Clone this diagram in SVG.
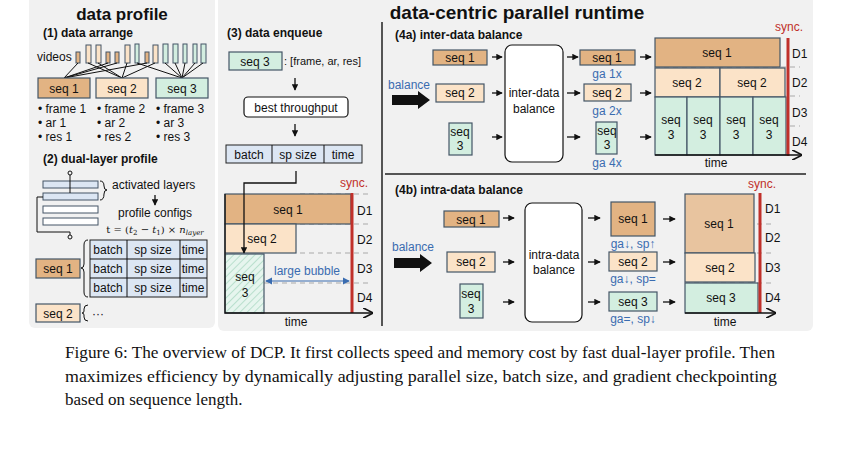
<svg xmlns="http://www.w3.org/2000/svg" width="843" height="452" viewBox="0 0 843 452">
<defs>
<style>
text{font-family:"Liberation Sans",Arial,sans-serif;font-size:12px;fill:#111}
.b{font-weight:bold}
.c{text-anchor:middle}
.sm{font-size:11px}
.bl{fill:#3a6cb0}
.red{fill:#c0302a}
.s1{fill:#e2b383;stroke:#445566;stroke-width:1.2}
.s2{fill:#fbe3c8;stroke:#445566;stroke-width:1.2}
.s3{fill:#d3eee0;stroke:#445566;stroke-width:1.2}
.tb{fill:#dce6f3;stroke:#222;stroke-width:1}
.ln{stroke:#111;stroke-width:1;fill:none}
.ds{stroke:#aaa;stroke-width:1.2;stroke-dasharray:5,4;fill:none}
.sy{stroke:#c0302a;stroke-width:3}
.ar{stroke:#111;stroke-width:1.3;fill:none;marker-end:url(#m)}
.cap{font-family:"Liberation Serif","Times New Roman",serif;font-size:17px}
</style>
<marker id="m" viewBox="0 0 8 8" refX="7" refY="4" markerWidth="5" markerHeight="5" orient="auto"><path d="M0,0L8,4L0,8z" fill="#111"/></marker>
<marker id="m2" viewBox="0 0 8 8" refX="7" refY="4" markerWidth="8" markerHeight="8" orient="auto"><path d="M0,0L8,4L0,8" fill="none" stroke="#111" stroke-width="1.3"/></marker>
<marker id="mb" viewBox="0 0 8 8" refX="7" refY="4" markerWidth="6" markerHeight="6" orient="auto-start-reverse"><path d="M0,0L8,4L0,8z" fill="#3a6cb0"/></marker>
<pattern id="h" width="5" height="5" patternUnits="userSpaceOnUse" patternTransform="rotate(45)"><rect width="5" height="5" fill="#e6f5ee"/><line x1="0" y1="0" x2="0" y2="5" stroke="#8cc9ad" stroke-width="1"/></pattern>
</defs>
<rect width="843" height="452" fill="#fff"/>
<rect x="29" y="-6" width="186" height="334" rx="6" fill="#f1f1f1"/>
<rect x="218" y="-6" width="595" height="337" rx="6" fill="#f1f1f1"/>

<g id="data-profile">
<text x="122" y="20" class="b c" style="font-size:17px">data profile</text>
<text x="43" y="37" class="b">(1) data arrange</text>
<text x="37" y="61">videos</text>
<g stroke="#445566" stroke-width="1">
<rect x="76" y="52" width="4" height="11" fill="#e2b383"/>
<rect x="86" y="45" width="5" height="18" fill="#fbe3c8"/>
<rect x="96" y="45" width="5" height="18" fill="#fbe3c8"/>
<rect x="106" y="52" width="4" height="11" fill="#e2b383"/>
<rect x="115" y="52" width="4" height="11" fill="#e2b383"/>
<rect x="125" y="45" width="5" height="18" fill="#fbe3c8"/>
<rect x="135" y="44" width="4" height="19" fill="#d3eee0"/>
<rect x="145" y="52" width="4" height="11" fill="#e2b383"/>
<rect x="153" y="45" width="5" height="18" fill="#fbe3c8"/>
<rect x="163" y="44" width="5" height="19" fill="#d3eee0"/>
<rect x="173" y="44" width="5" height="19" fill="#d3eee0"/>
<rect x="183" y="44" width="4" height="19" fill="#d3eee0"/>
<rect x="193" y="44" width="4" height="19" fill="#d3eee0"/>
<rect x="201" y="44" width="5" height="19" fill="#d3eee0"/>
</g>
<g class="ln">
<path d="M78,63L64,78M108,63L64,78M117,63L64,78M147,63L64,78M88,63L122,78M98,63L122,78M127,63L122,78M155,63L122,78M137,63L182,78M165,63L182,78M175,63L182,78M185,63L182,78M195,63L182,78M203,63L182,78"/>
</g>
<rect x="38" y="78" width="52" height="20" class="s1"/><text x="64" y="93" class="c">seq 1</text>
<rect x="96" y="78" width="52" height="20" class="s2"/><text x="122" y="93" class="c">seq 2</text>
<rect x="156" y="78" width="52" height="20" class="s3"/><text x="182" y="93" class="c">seq 3</text>
<g class="sm">
<text x="38" y="113">• frame 1</text><text x="38" y="127">• ar 1</text><text x="38" y="141">• res 1</text>
<text x="97" y="113">• frame 2</text><text x="97" y="127">• ar 2</text><text x="97" y="141">• res 2</text>
<text x="156" y="113">• frame 3</text><text x="156" y="127">• ar 3</text><text x="156" y="141">• res 3</text>
</g>
<text x="43" y="163" class="b">(2) dual-layer profile</text>
<g stroke="#445566" stroke-width="1">
<rect x="43" y="181" width="55" height="7" fill="#dce6f3"/>
<rect x="43" y="193" width="55" height="7" fill="#dce6f3"/>
<rect x="43" y="206" width="55" height="7" fill="#fff"/>
<rect x="43" y="218" width="55" height="7" fill="#fff"/>
</g>
<g class="ln">
<circle cx="70" cy="173" r="2"/><path d="M70,175V193"/>
<path d="M43,197H37V232H70V235"/><circle cx="70" cy="237" r="2"/>
<path d="M100,181Q104,181 104,186Q104,190 107,190Q104,190 104,194Q104,200 100,200"/>
</g>
<text x="112" y="189">activated layers</text>
<path d="M155,195V205" class="ar"/>
<text x="155" y="217" class="c">profile configs</text>
<text x="155" y="233" class="c" style="font-family:'DejaVu Serif',serif;font-size:10px">t = (<tspan font-style="italic">t</tspan><tspan font-size="7" dy="2">2</tspan><tspan dy="-2"> − </tspan><tspan font-style="italic">t</tspan><tspan font-size="7" dy="2">1</tspan><tspan dy="-2">) × </tspan><tspan font-style="italic">n</tspan><tspan font-size="7" font-style="italic" dy="2">layer</tspan></text>
<g class="sm">
<rect x="90" y="240" width="117" height="57" class="tb"/>
<path d="M90,259H207M90,278H207M127,240V297M180,240V297" class="ln"/>
<text x="108" y="254" class="c">batch</text><text x="153" y="254" class="c">sp size</text><text x="193" y="254" class="c">time</text>
<text x="108" y="273" class="c">batch</text><text x="153" y="273" class="c">sp size</text><text x="193" y="273" class="c">time</text>
<text x="108" y="292" class="c">batch</text><text x="153" y="292" class="c">sp size</text><text x="193" y="292" class="c">time</text>
</g>
<path d="M88,240Q84,240 84,245V264Q84,268 81,268Q84,268 84,272V292Q84,297 88,297" class="ln"/>
<rect x="36" y="259" width="44" height="19" class="s1"/><text x="58" y="273" class="c">seq 1</text>
<rect x="36" y="304" width="44" height="18" class="s2"/><text x="58" y="318" class="c">seq 2</text>
<path d="M88,305Q84,305 84,309V311Q84,313 82,313Q84,313 84,315V317Q84,321 88,321" class="ln"/>
<text x="92" y="318">···</text>
</g>

<g id="data-enqueue">
<text x="227" y="37" class="b">(3) data enqueue</text>
<rect x="229" y="52" width="53" height="18" class="s3"/><text x="255" y="66" class="c">seq 3</text>
<text x="284" y="65" class="sm">: [frame, ar, res]</text>
<rect x="244" y="97" width="104" height="20" rx="4" fill="#fff" stroke="#111" stroke-width="1.2"/>
<text x="296" y="112" class="c">best throughput</text>
<rect x="226" y="145" width="136" height="18" class="tb"/>
<path d="M272,145V163M324,145V163" class="ln"/>
<text x="249" y="159" class="c">batch</text><text x="298" y="159" class="c">sp size</text><text x="343" y="159" class="c">time</text>
<path d="M300,194H370M300,224H370M300,253H370M264,283H370" class="ds"/>
<rect x="225" y="194" width="126" height="30" class="s1"/><text x="288" y="214" class="c">seq 1</text>
<rect x="225" y="224" width="71" height="29" class="s2"/><text x="262" y="243" class="c">seq 2</text>
<rect x="225" y="254" width="39" height="59" fill="url(#h)" stroke="#445566" stroke-width="1.2"/>
<text x="245" y="281" class="c">seq</text><text x="245" y="297" class="c">3</text>
<path d="M266,281H349" stroke="#3a6cb0" stroke-width="1.2" marker-start="url(#mb)" marker-end="url(#mb)"/>
<text x="307" y="275" class="c bl">large bubble</text>
<path d="M352,193V313" class="sy"/>
<text x="340" y="187" class="red">sync.</text>
<text x="357" y="215">D1</text><text x="357" y="244">D2</text><text x="357" y="273">D3</text><text x="357" y="302">D4</text>
<path d="M225,194V313H372" stroke="#111" stroke-width="1.3" fill="none" marker-end="url(#m2)"/>
<text x="296" y="326" class="c">time</text>
</g>

<g id="dividers">
<path d="M382,22V326M385,174H806" stroke="#222" stroke-width="1.5"/>
</g>

<g id="inter-data">
<text x="517" y="19" class="b c" style="font-size:19px">data-centric parallel runtime</text>
<text x="395" y="39" class="b">(4a) inter-data balance</text>
<text x="388" y="89" class="bl">balance</text>
<path d="M392,95H418V91L430,100L418,109V105H392z" fill="#111"/>
<rect x="433" y="50" width="54" height="15" class="s1"/><text x="460" y="62" class="c">seq 1</text>
<rect x="436" y="84" width="48" height="18" class="s2"/><text x="460" y="97" class="c">seq 2</text>
<rect x="449" y="123" width="23" height="32" class="s3"/><text x="460" y="136" class="c">seq</text><text x="460" y="150" class="c">3</text>
<rect x="505" y="45" width="58" height="117" rx="7" fill="#fff" stroke="#111" stroke-width="1.2"/>
<text x="534" y="97" class="c">inter-data</text><text x="534" y="113" class="c">balance</text>
<rect x="580" y="50" width="55" height="15" class="s1"/><text x="607" y="62" class="c">seq 1</text>
<text x="607" y="78" class="c bl">ga 1x</text>
<rect x="584" y="84" width="47" height="17" class="s2"/><text x="607" y="97" class="c">seq 2</text>
<text x="607" y="115" class="c bl">ga 2x</text>
<rect x="596" y="122" width="21" height="32" class="s3"/><text x="607" y="135" class="c">seq</text><text x="607" y="149" class="c">3</text>
<text x="607" y="167" class="c bl">ga 4x</text>
<path d="M655,67H800M655,96H800M655,126H800" class="ds"/>
<rect x="655" y="38" width="125" height="29" class="s1"/><text x="717" y="57" class="c">seq 1</text>
<rect x="655" y="68" width="65" height="29" class="s2"/><text x="687" y="87" class="c">seq 2</text>
<rect x="720" y="68" width="65" height="29" class="s2"/><text x="752" y="87" class="c">seq 2</text>
<rect x="655" y="97" width="32" height="58" class="s3"/><rect x="687" y="97" width="33" height="58" class="s3"/><rect x="720" y="97" width="33" height="58" class="s3"/><rect x="753" y="97" width="33" height="58" class="s3"/>
<text x="671" y="124" class="c">seq</text><text x="671" y="139" class="c">3</text>
<text x="703" y="124" class="c">seq</text><text x="703" y="139" class="c">3</text>
<text x="736" y="124" class="c">seq</text><text x="736" y="139" class="c">3</text>
<text x="769" y="124" class="c">seq</text><text x="769" y="139" class="c">3</text>
<path d="M788,38V156" class="sy"/>
<text x="775" y="31" class="red">sync.</text>
<text x="792" y="58">D1</text><text x="792" y="87">D2</text><text x="792" y="117">D3</text><text x="792" y="146">D4</text>
<path d="M655,155H801" stroke="#111" stroke-width="1.3" fill="none" marker-end="url(#m2)"/>
<text x="716" y="167" class="c">time</text>
</g>

<g id="intra-data">
<text x="395" y="194" class="b">(4b) intra-data balance</text>
<text x="392" y="251" class="bl">balance</text>
<path d="M394,258H420V254L432,263L420,272V268H394z" fill="#111"/>
<rect x="444" y="211" width="55" height="16" class="s1"/><text x="471" y="224" class="c">seq 1</text>
<rect x="447" y="252" width="48" height="20" class="s2"/><text x="471" y="266" class="c">seq 2</text>
<rect x="460" y="284" width="23" height="34" class="s3"/><text x="471" y="298" class="c">seq</text><text x="471" y="313" class="c">3</text>
<rect x="525" y="203" width="57" height="119" rx="7" fill="#fff" stroke="#111" stroke-width="1.2"/>
<text x="554" y="259" class="c">intra-data</text><text x="554" y="274" class="c">balance</text>
<rect x="611" y="202" width="44" height="34" class="s1"/><text x="633" y="223" class="c">seq 1</text>
<text x="633" y="248" class="c bl">ga↓, sp↑</text>
<rect x="609" y="252" width="48" height="19" class="s2"/><text x="633" y="266" class="c">seq 2</text>
<text x="633" y="283" class="c bl">ga↓, sp=</text>
<rect x="609" y="292" width="48" height="19" class="s3"/><text x="633" y="306" class="c">seq 3</text>
<text x="633" y="323" class="c bl">ga=, sp↓</text>
<path d="M685,224H772M685,253H772M685,283H772" class="ds"/>
<rect x="685" y="194" width="69" height="59" class="s1" style="fill:#e8c49f"/><text x="719" y="228" class="c">seq 1</text>
<rect x="685" y="253" width="70" height="29" class="s2"/><text x="720" y="272" class="c">seq 2</text>
<rect x="685" y="283" width="73" height="30" class="s3"/><text x="721" y="302" class="c">seq 3</text>
<path d="M760,193V313" class="sy"/>
<text x="748" y="188" class="red">sync.</text>
<text x="765" y="213">D1</text><text x="765" y="242">D2</text><text x="765" y="272">D3</text><text x="765" y="302">D4</text>
<path d="M685,313H775" stroke="#111" stroke-width="1.3" fill="none" marker-end="url(#m2)"/>
<text x="725" y="326" class="c">time</text>
</g>

<g id="connectors">
<path d="M295,78V90" class="ar"/>
<path d="M295,124V136" class="ar"/>
<path d="M296,171V183H244V253" class="ar"/>
<path d="M492,57H502" class="ar"/><path d="M492,93H502" class="ar"/><path d="M492,137H502" class="ar"/>
<path d="M567,57H578" class="ar"/><path d="M567,93H580" class="ar"/><path d="M567,137H580" class="ar"/>
<path d="M640,57H651" class="ar"/><path d="M640,93H651" class="ar"/><path d="M640,137H651" class="ar"/>
<path d="M503,218H514" class="ar"/><path d="M503,262H514" class="ar"/><path d="M503,302H514" class="ar"/>
<path d="M588,218H600" class="ar"/><path d="M588,262H600" class="ar"/><path d="M588,302H600" class="ar"/>
<path d="M663,219H675" class="ar"/><path d="M663,262H675" class="ar"/><path d="M663,302H675" class="ar"/>
</g>

<g id="caption">
<text x="65" y="358" class="cap" textLength="710" lengthAdjust="spacingAndGlyphs">Figure 6: The overview of DCP. It first collects speed and memory cost by fast dual-layer profile. Then</text>
<text x="65" y="382" class="cap" textLength="712" lengthAdjust="spacingAndGlyphs">maximizes efficiency by dynamically adjusting parallel size, batch size, and gradient checkpointing</text>
<text x="65" y="405" class="cap">based on sequence length.</text>
</g>
</svg>
